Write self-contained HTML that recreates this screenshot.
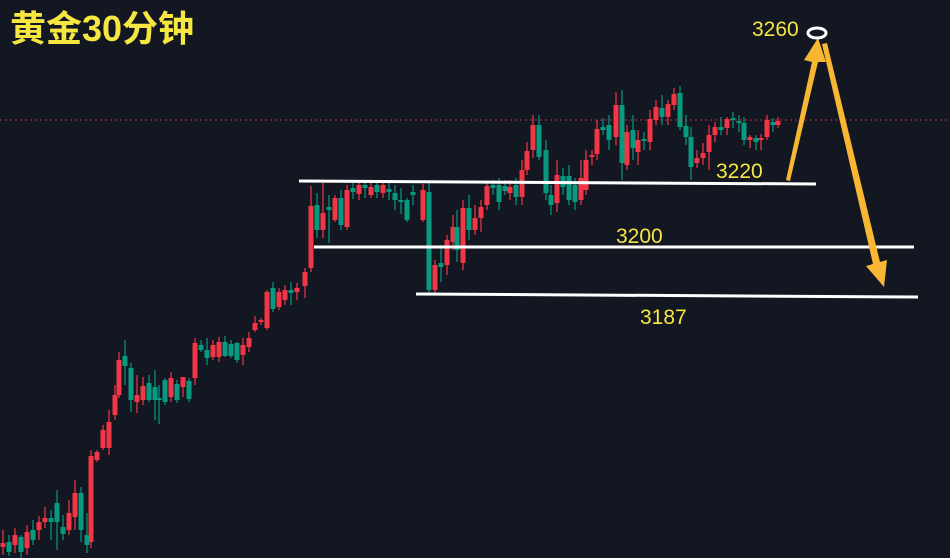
<!DOCTYPE html>
<html><head><meta charset="utf-8"><style>
html,body{margin:0;padding:0;background:#131722;}
svg{display:block}
</style></head><body>
<svg width="950" height="558" xmlns="http://www.w3.org/2000/svg">
<rect width="950" height="558" fill="#131722"/>
<g stroke="#f23645" stroke-width="1.2" fill="none">
<path d="M3 530V555M15 528V553M27 525V555M39 516V540M45 507V528M69 500V535M75 480V530M91 450V548M97 450V462M103 425V450M109 410V455M115 385V420M119 352V398M137 375V413M143 377V405M171 372V402M183 377V397M195 338V385M213 340V360M219 337V362M243 338V365M249 332V352M255 316V332M261 318V325M267 290V330M279 288V310M285 285V305M297 283V300M305 268V298M311 186V272M323 183V238M335 195V222M347 185V230M359 182V200M371 182V198M383 180V198M423 184V222M435 260V295M447 235V275M453 215V250M463 200V270M475 205V235M481 200V232M487 182V210M510 180V200M522 160V205M527 142V175M533 115V158M557 160V212M581 160V205M586 150V195M592 150V165M597 120V160M616 92V145M627 125V170M638 130V165M650 110V150M656 100V125M668 100V125M674 88V110M697 150V168M703 143V165M709 125V170M715 122V142M727 117V135M750 135V148M761 134V150M767 115V140M778 117V128"/>
</g>
<path fill="#f23645" d="M0.5 543h5V547h-5zM12.5 535h5V545h-5zM24.5 532h5V548h-5zM36.5 522h5V530h-5zM42.5 518h5V522h-5zM66.5 513h5V530h-5zM72.5 493h5V517h-5zM88.5 456h5V542h-5zM94.5 452h5V460h-5zM100.5 430h5V448h-5zM106.5 422h5V448h-5zM112.5 395h5V415h-5zM116.5 360h5V395h-5zM134.5 395h5V402h-5zM140.5 386h5V400h-5zM168.5 378h5V397h-5zM180.5 377h5V387h-5zM192.5 343h5V378h-5zM210.5 345h5V357h-5zM216.5 342h5V357h-5zM240.5 345h5V355h-5zM246.5 338h5V347h-5zM252.5 323h5V330h-5zM258.5 320h5V322h-5zM264.5 292h5V328h-5zM276.5 292h5V307h-5zM282.5 290h5V300h-5zM294.5 288h5V292h-5zM302.5 272h5V286h-5zM308.5 206h5V268h-5zM320.5 213h5V230h-5zM332.5 198h5V220h-5zM344.5 190h5V227h-5zM356.5 185h5V194h-5zM368.5 187h5V195h-5zM380.5 185h5V193h-5zM420.5 190h5V220h-5zM432.5 265h5V290h-5zM444.5 240h5V265h-5zM450.5 227h5V242h-5zM460.5 208h5V263h-5zM472.5 218h5V230h-5zM478.5 207h5V218h-5zM484.5 186h5V205h-5zM507.5 187h5V193h-5zM519.5 170h5V197h-5zM524.5 151h5V170h-5zM530.5 125h5V150h-5zM554.5 175h5V203h-5zM578.5 178h5V200h-5zM583.5 160h5V190h-5zM589.5 155h5V157h-5zM594.5 129h5V154h-5zM613.5 105h5V137h-5zM624.5 132h5V165h-5zM635.5 140h5V152h-5zM647.5 119h5V142h-5zM653.5 107h5V120h-5zM665.5 104h5V117h-5zM671.5 94h5V105h-5zM694.5 158h5V163h-5zM700.5 153h5V158h-5zM706.5 135h5V152h-5zM712.5 127h5V135h-5zM724.5 119h5V128h-5zM747.5 137h5V140h-5zM758.5 138h5V140h-5zM764.5 120h5V137h-5zM775.5 121h5V125h-5z"/>
<g stroke="#089981" stroke-width="1.2" fill="none">
<path d="M9 535V556M21 535V558M33 520V545M51 510V540M57 490V550M63 515V540M81 487V542M87 513V553M125 340V385M131 363V412M149 375V402M155 370V420M159 385V424M165 378V405M177 380V403M189 378V402M201 340V352M207 338V365M225 336V357M231 340V358M237 342V363M273 282V312M291 282V305M317 193V238M329 195V243M341 190V230M353 183V199M365 180V198M377 180V198M389 180V200M395 185V210M401 188V214M407 198V222M413 185V205M429 183V295M441 245V282M457 210V262M469 195V240M493 180V195M499 178V210M505 180V195M516 178V205M539 115V160M546 140V200M551 185V215M563 168V195M569 165V205M575 178V210M603 118V135M609 115V150M622 90V180M633 115V160M644 132V150M662 95V125M680 86V130M686 115V145M691 127V180M721 117V135M733 112V128M739 115V132M744 117V145M756 135V150M773 118V132"/>
</g>
<path fill="#089981" d="M6.5 542h5V552h-5zM18.5 537h5V552h-5zM30.5 530h5V540h-5zM48.5 518h5V522h-5zM54.5 503h5V522h-5zM60.5 527h5V534h-5zM78.5 493h5V530h-5zM84.5 535h5V545h-5zM122.5 356h5V366h-5zM128.5 368h5V400h-5zM146.5 383h5V400h-5zM152.5 387h5V400h-5zM156.5 398h5V400h-5zM162.5 380h5V402h-5zM174.5 384h5V400h-5zM186.5 381h5V399h-5zM198.5 345h5V350h-5zM204.5 350h5V358h-5zM222.5 342h5V356h-5zM228.5 344h5V356h-5zM234.5 343h5V360h-5zM270.5 288h5V309h-5zM288.5 290h5V293h-5zM314.5 205h5V230h-5zM326.5 207h5V210h-5zM338.5 198h5V225h-5zM350.5 188h5V192h-5zM362.5 185h5V188h-5zM374.5 185h5V192h-5zM386.5 189h5V192h-5zM392.5 193h5V200h-5zM398.5 200h5V202h-5zM404.5 200h5V220h-5zM410.5 192h5V195h-5zM426.5 192h5V290h-5zM438.5 263h5V267h-5zM454.5 227h5V250h-5zM466.5 208h5V230h-5zM490.5 185h5V188h-5zM496.5 185h5V202h-5zM502.5 186h5V191h-5zM513.5 185h5V197h-5zM536.5 125h5V157h-5zM543.5 150h5V193h-5zM548.5 195h5V205h-5zM560.5 176h5V187h-5zM566.5 176h5V200h-5zM572.5 185h5V202h-5zM600.5 127h5V130h-5zM606.5 125h5V140h-5zM619.5 105h5V163h-5zM630.5 130h5V148h-5zM641.5 139h5V141h-5zM659.5 108h5V117h-5zM677.5 93h5V127h-5zM683.5 126h5V137h-5zM688.5 137h5V167h-5zM718.5 127h5V130h-5zM730.5 118h5V120h-5zM736.5 121h5V123h-5zM741.5 123h5V140h-5zM753.5 138h5V142h-5zM770.5 122h5V125h-5z"/>
<line x1="0" y1="120" x2="950" y2="120" stroke="#f23645" stroke-width="1" stroke-dasharray="2,3" opacity="0.8"/>
<line x1="299" y1="181" x2="816" y2="184" stroke="#fff" stroke-width="3"/>
<line x1="314" y1="247" x2="914" y2="247" stroke="#fff" stroke-width="3"/>
<line x1="416" y1="294" x2="918" y2="297" stroke="#fff" stroke-width="3"/>
<polygon points="786,180 812,62 804,60 818,38 826,62 818,62 790,181" fill="#f7b733"/>
<polygon points="822,44 827,43 880,262 887,260 884,287 866,266 873,264" fill="#f7b733"/>
<ellipse cx="817" cy="33" rx="9" ry="5" fill="none" stroke="#fff" stroke-width="3"/>
<g font-family="Liberation Sans, sans-serif" font-size="21" fill="#f5e642">
<text x="752" y="36">3260</text>
<text x="716" y="178">3220</text>
<text x="616" y="243">3200</text>
<text x="640" y="324">3187</text>
</g>
<text x="10" y="41" font-family="'Liberation Sans','Noto Sans CJK SC',sans-serif" font-size="36" font-weight="bold" fill="#f5e642">黄金30分钟</text>
</svg>
</body></html>
